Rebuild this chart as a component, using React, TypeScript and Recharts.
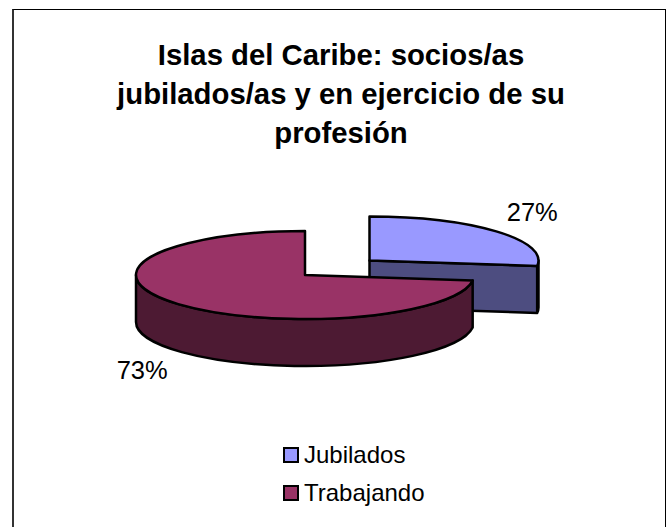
import { PieChart, Pie, Cell, Legend } from "recharts";

const CATEGORIES = ["Jubilados", "Trabajando"];
const SHARES = [27, 73];
const TITLE_LINES = [
  "Islas del Caribe: socios/as",
  "jubilados/as y en ejercicio de su",
  "profesión",
];

const TOP_COLORS = ["#9999ff", "#993366"];
const WALL_COLORS = ["#4d4d80", "#4d1a33"];
const FONT = "'Liberation Sans', Arial, sans-serif";

const RX = 169;
const RY = 44;
const DEPTH = 47;
// the first slice is pulled out of the pie
const EXPLODE = [{ dx: 64.5, dy: -14.5 }, { dx: 0, dy: 0 }];

const data = CATEGORIES.map((name, i) => ({ name, value: SHARES[i] }));

function pt(cx: number, cy: number, deg: number) {
  const a = (deg * Math.PI) / 180;
  return { x: cx + RX * Math.cos(a), y: cy - RY * Math.sin(a) };
}

// squashed sector with its visible side walls
function EllipseSlice(props: any) {
  const { cx, cy, startAngle, endAngle, index, name } = props;
  const i = index ?? CATEGORIES.indexOf(name);
  const ox = cx + EXPLODE[i].dx;
  const oy = cy + EXPLODE[i].dy;
  const from = pt(ox, oy, startAngle);
  const to = pt(ox, oy, endAngle);
  const large = Math.abs(endAngle - startAngle) > 180 ? 1 : 0;
  const top = `M${ox},${oy} L${from.x},${from.y} A${RX},${RY} 0 ${large} 1 ${to.x},${to.y} Z`;

  let wall = "";
  if (i === 0) {
    // cut face plus the sliver of rim on the right
    const rim = pt(ox, oy, 0);
    wall =
      `M${ox},${oy} L${to.x},${to.y} L${to.x},${to.y + DEPTH} L${ox},${oy + DEPTH} Z ` +
      `M${rim.x},${rim.y} A${RX},${RY} 0 0 1 ${to.x},${to.y} L${to.x},${to.y + DEPTH} A${RX},${RY} 0 0 0 ${rim.x},${rim.y + DEPTH} Z`;
  } else {
    // front rim, from the right end of the slice to the leftmost point
    const left = pt(ox, oy, 180);
    wall =
      `M${from.x},${from.y} A${RX},${RY} 0 0 1 ${left.x},${left.y} L${left.x},${left.y + DEPTH} ` +
      `A${RX},${RY} 0 0 0 ${from.x},${from.y + DEPTH} Z`;
  }
  return (
    <g>
      <path d={wall} fill={WALL_COLORS[i]} stroke="#000" strokeWidth={2.5} strokeLinejoin="round" />
      <path d={top} fill={TOP_COLORS[i]} stroke="#000" strokeWidth={2.5} strokeLinejoin="round" />
    </g>
  );
}

function PercentLabel(props: any) {
  const { cx, cy, midAngle, percent, index } = props;
  const a = (midAngle * Math.PI) / 180;
  const lower = Math.sin(a) < 0;
  const x = cx + EXPLODE[index].dx + 217 * Math.cos(a);
  const y = cy + EXPLODE[index].dy - (lower ? 143 : 74) * Math.sin(a);
  return (
    <text x={x} y={y} textAnchor="middle" dominantBaseline="central" fontFamily={FONT} fontSize={25.5} fill="#000">
      {`${Math.round(percent * 100)}%`}
    </text>
  );
}

function LegendBox({ payload }: any) {
  return (
    <div style={{ fontFamily: FONT, fontSize: 24, color: "#000" }}>
      {(payload ?? []).map((p: any, i: number) => (
        <div key={p.value} style={{ display: "flex", alignItems: "center", height: 38 }}>
          <span style={{ flex: "none", width: 12, height: 12, background: TOP_COLORS[i], border: "2.5px solid #000", marginRight: 5 }} />
          {p.value}
        </div>
      ))}
    </div>
  );
}

export default function App() {
  return (
    <div style={{ position: "absolute", left: 0, top: 0, width: 672, height: 527, background: "#fff", overflow: "hidden" }}>
      <div style={{ position: "absolute", left: 12, top: 9, width: 654, height: 530, borderTop: "1px solid #000", borderLeft: "2px solid #333", borderRight: "1px solid #000", boxSizing: "border-box" }} />
      <div style={{ position: "absolute", left: 0, top: 35, width: 682, textAlign: "center", fontFamily: FONT, fontWeight: 700, fontSize: 29.3, lineHeight: "39px", color: "#000" }}>
        {TITLE_LINES.map((t) => <div key={t}>{t}</div>)}
      </div>
      <PieChart width={672} height={527} margin={{ top: 0, right: 0, bottom: 0, left: 0 }} style={{ position: "absolute", left: 0, top: 0 }}>
        <Pie
          data={data}
          dataKey="value"
          nameKey="name"
          cx={305}
          cy={275}
          outerRadius={RX}
          startAngle={90}
          endAngle={-270}
          paddingAngle={0}
          stroke="#000"
          shape={EllipseSlice}
          label={PercentLabel}
          labelLine={false}
          isAnimationActive={false}
        >
          {data.map((d, i) => <Cell key={d.name} fill={TOP_COLORS[i]} />)}
        </Pie>
        <Legend content={<LegendBox />} wrapperStyle={{ position: "absolute", left: 283, top: 436, width: "auto", bottom: "auto" }} />
      </PieChart>
    </div>
  );
}
